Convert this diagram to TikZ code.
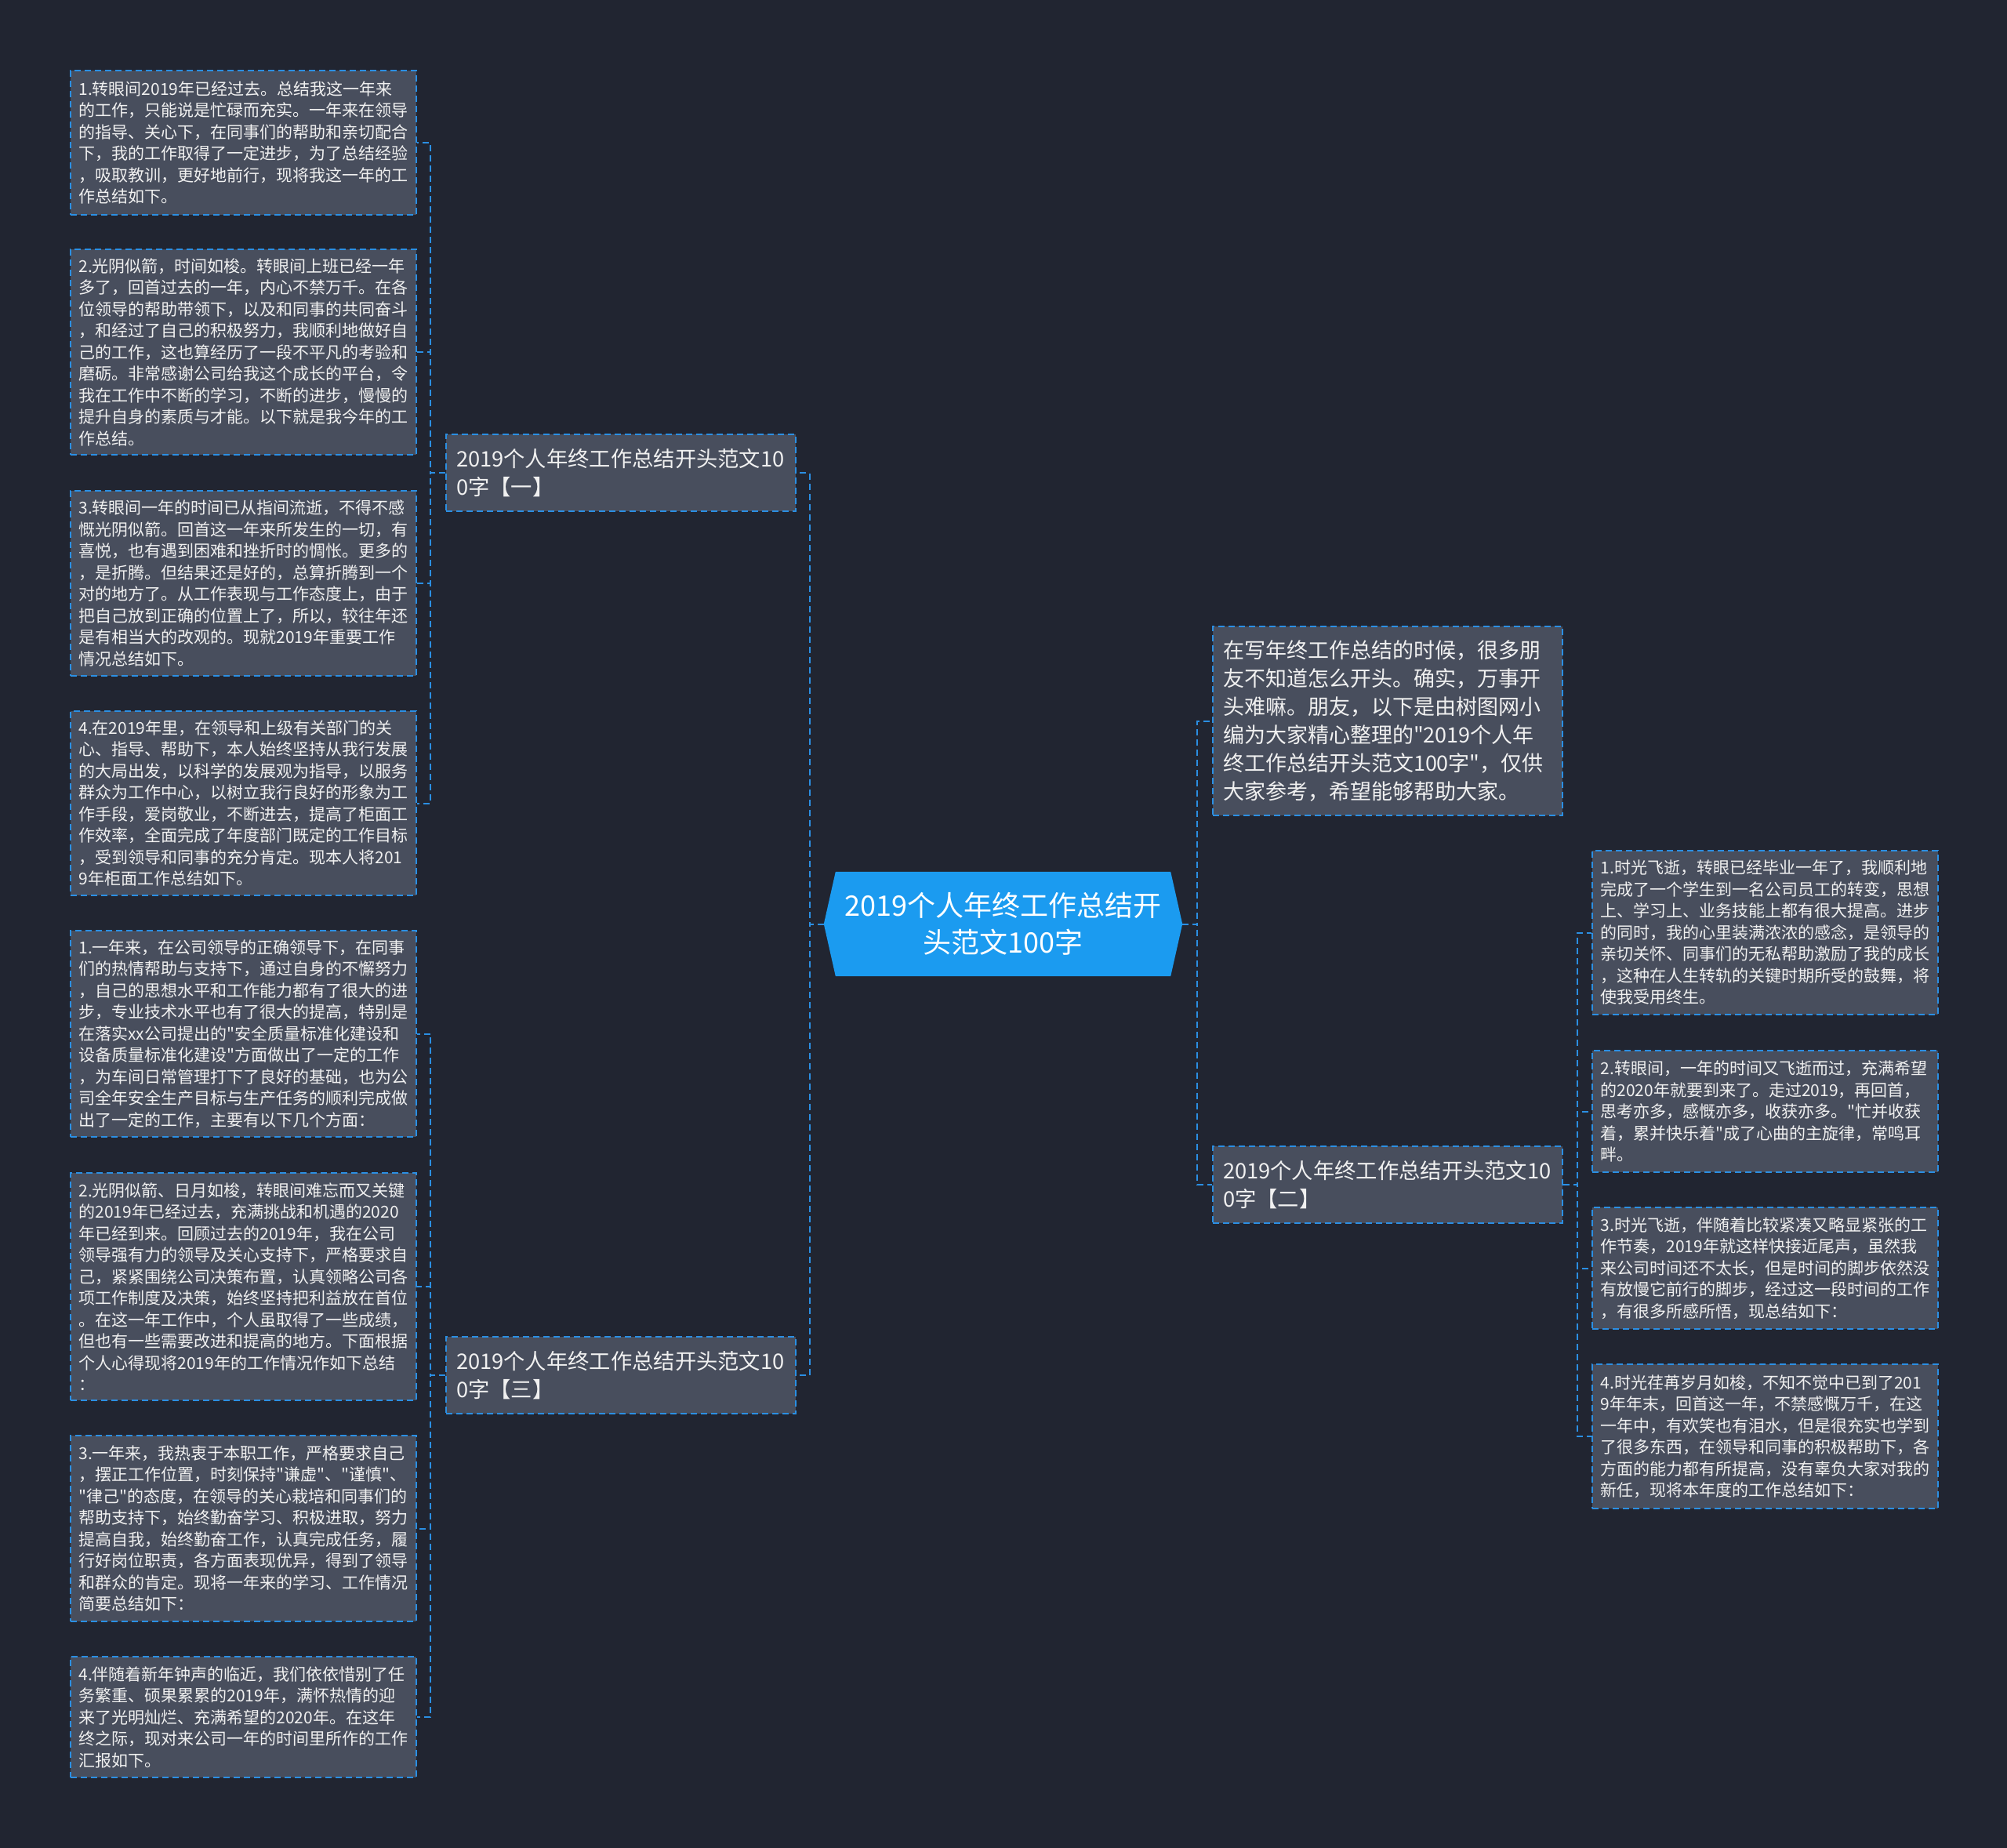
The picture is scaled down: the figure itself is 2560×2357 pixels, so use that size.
\documentclass[tikz,border=0pt]{standalone}
\usepackage{fontspec}
\newfontfamily\cjk{Noto Sans CJK SC}
\usetikzlibrary{calc}
\definecolor{bgc}{HTML}{212531}
\definecolor{boxfill}{HTML}{484E5D}
\definecolor{edge}{HTML}{2B8FE3}
\definecolor{hub}{HTML}{1B9BF0}
\definecolor{txt}{HTML}{F0F0F0}
\pgfdeclarelayer{back}
\pgfsetlayers{back,main}
\tikzset{
  dashline/.style={draw=edge, line width=2pt, dash pattern=on 8pt off 5pt},
  leaf/.style={dashline, fill=boxfill, anchor=north west, text width=420pt,
    inner xsep=10.5pt, inner ysep=0pt, align=left, text=txt,
    font=\cjk\fontsize{21}{27.5}\selectfont},
  branch/.style={dashline, fill=boxfill, anchor=north west, text width=420pt,
    inner xsep=13pt, inner ysep=0pt, align=left, text=txt, minimum height=98pt,
    font=\cjk\fontsize{27.3}{36}\selectfont},
  intro/.style={dashline, fill=boxfill, anchor=north west, text width=420pt,
    inner xsep=13pt, inner ysep=0pt, align=left, text=txt,
    font=\cjk\fontsize{27}{36}\selectfont},
  hubnode/.style={minimum width=457pt, minimum height=133pt, inner sep=0pt,
    align=center, text=white, font=\cjk\fontsize{36}{47}\selectfont},
  link/.style={dashline}
}
\begin{document}
\begin{tikzpicture}[x=1pt,y=-1pt]
\begin{pgfonlayer}{back}
\fill[bgc] (0,0) rectangle (2560,2357);
\end{pgfonlayer}
\useasboundingbox (0,0) rectangle (2560,2357);

% central topic
\node[hubnode] (c) at (1279.5,1178.5) {2019个人年终工作总结开\\头范文100字};
\begin{pgfonlayer}{back}
\fill[hub] ($(c.north west)+(15,0)$) -- ($(c.north east)+(-15,0)$) -- (c.east)
  -- ($(c.south east)+(-15,0)$) -- ($(c.south west)+(15,0)$) -- (c.west) -- cycle;
\end{pgfonlayer}

% branches
\node[branch, minimum width=446pt] (b1) at (568,553) {2019个人年终工作总结开头范文10\\0字【一】};
\node[branch, minimum width=446pt] (b3) at (568,1704) {2019个人年终工作总结开头范文10\\0字【三】};
\node[intro, minimum width=446pt, minimum height=241pt] (intro) at (1546,798) {在写年终工作总结的时候，很多朋\\友不知道怎么开头。确实，万事开\\头难嘛。朋友，以下是由树图网小\\编为大家精心整理的"2019个人年\\终工作总结开头范文100字"，仅供\\大家参考，希望能够帮助大家。};
\node[branch, minimum width=446pt] (b2) at (1546,1461) {2019个人年终工作总结开头范文10\\0字【二】};

% left group 1
\node[leaf, minimum height=184pt] (l1) at (89,89) {1.转眼间2019年已经过去。总结我这一年来\\的工作，只能说是忙碌而充实。一年来在领导\\的指导、关心下，在同事们的帮助和亲切配合\\下，我的工作取得了一定进步，为了总结经验\\，吸取教训，更好地前行，现将我这一年的工\\作总结如下。};
\node[leaf, minimum height=262pt] (l2) at (89,317) {2.光阴似箭，时间如梭。转眼间上班已经一年\\多了，回首过去的一年，内心不禁万千。在各\\位领导的帮助带领下，以及和同事的共同奋斗\\，和经过了自己的积极努力，我顺利地做好自\\己的工作，这也算经历了一段不平凡的考验和\\磨砺。非常感谢公司给我这个成长的平台，令\\我在工作中不断的学习，不断的进步，慢慢的\\提升自身的素质与才能。以下就是我今年的工\\作总结。};
\node[leaf, minimum height=236pt] (l3) at (89,625) {3.转眼间一年的时间已从指间流逝，不得不感\\慨光阴似箭。回首这一年来所发生的一切，有\\喜悦，也有遇到困难和挫折时的惆怅。更多的\\，是折腾。但结果还是好的，总算折腾到一个\\对的地方了。从工作表现与工作态度上，由于\\把自己放到正确的位置上了，所以，较往年还\\是有相当大的改观的。现就2019年重要工作\\情况总结如下。};
\node[leaf, minimum height=235pt] (l4) at (89,906) {4.在2019年里，在领导和上级有关部门的关\\心、指导、帮助下，本人始终坚持从我行发展\\的大局出发，以科学的发展观为指导，以服务\\群众为工作中心，以树立我行良好的形象为工\\作手段，爱岗敬业，不断进去，提高了柜面工\\作效率，全面完成了年度部门既定的工作目标\\，受到领导和同事的充分肯定。现本人将201\\9年柜面工作总结如下。};

% left group 3
\node[leaf, minimum height=263pt] (l5) at (89,1186) {1.一年来，在公司领导的正确领导下，在同事\\们的热情帮助与支持下，通过自身的不懈努力\\，自己的思想水平和工作能力都有了很大的进\\步，专业技术水平也有了很大的提高，特别是\\在落实xx公司提出的"安全质量标准化建设和\\设备质量标准化建设"方面做出了一定的工作\\，为车间日常管理打下了良好的基础，也为公\\司全年安全生产目标与生产任务的顺利完成做\\出了一定的工作，主要有以下几个方面：};
\node[leaf, minimum height=290pt] (l6) at (89,1495) {2.光阴似箭、日月如梭，转眼间难忘而又关键\\的2019年已经过去，充满挑战和机遇的2020\\年已经到来。回顾过去的2019年，我在公司\\领导强有力的领导及关心支持下，严格要求自\\己，紧紧围绕公司决策布置，认真领略公司各\\项工作制度及决策，始终坚持把利益放在首位\\。在这一年工作中，个人虽取得了一些成绩，\\但也有一些需要改进和提高的地方。下面根据\\个人心得现将2019年的工作情况作如下总结\\：};
\node[leaf, minimum height=237pt] (l7) at (89,1830) {3.一年来，我热衷于本职工作，严格要求自己\\，摆正工作位置，时刻保持"谦虚"、"谨慎"、\\"律己"的态度，在领导的关心栽培和同事们的\\帮助支持下，始终勤奋学习、积极进取，努力\\提高自我，始终勤奋工作，认真完成任务，履\\行好岗位职责，各方面表现优异，得到了领导\\和群众的肯定。现将一年来的学习、工作情况\\简要总结如下：};
\node[leaf, minimum height=154pt] (l8) at (89,2112) {4.伴随着新年钟声的临近，我们依依惜别了任\\务繁重、硕果累累的2019年，满怀热情的迎\\来了光明灿烂、充满希望的2020年。在这年\\终之际，现对来公司一年的时间里所作的工作\\汇报如下。};

% right group 2
\node[leaf, minimum height=209pt] (r1) at (2030,1084) {1.时光飞逝，转眼已经毕业一年了，我顺利地\\完成了一个学生到一名公司员工的转变，思想\\上、学习上、业务技能上都有很大提高。进步\\的同时，我的心里装满浓浓的感念，是领导的\\亲切关怀、同事们的无私帮助激励了我的成长\\，这种在人生转轨的关键时期所受的鼓舞，将\\使我受用终生。};
\node[leaf, minimum height=155pt] (r2) at (2030,1339) {2.转眼间，一年的时间又飞逝而过，充满希望\\的2020年就要到来了。走过2019，再回首，\\思考亦多，感慨亦多，收获亦多。"忙并收获\\着，累并快乐着"成了心曲的主旋律，常鸣耳\\畔。};
\node[leaf, minimum height=155pt] (r3) at (2030,1539) {3.时光飞逝，伴随着比较紧凑又略显紧张的工\\作节奏，2019年就这样快接近尾声，虽然我\\来公司时间还不太长，但是时间的脚步依然没\\有放慢它前行的脚步，经过这一段时间的工作\\，有很多所感所悟，现总结如下：};
\node[leaf, minimum height=184pt] (r4) at (2030,1739) {4.时光荏苒岁月如梭，不知不觉中已到了201\\9年年末，回首这一年，不禁感慨万千，在这\\一年中，有欢笑也有泪水，但是很充实也学到\\了很多东西，在领导和同事的积极帮助下，各\\方面的能力都有所提高，没有辜负大家对我的\\新任，现将本年度的工作总结如下：};

% connectors
\draw[link] (c.west) -- ++(-18,0) |- (b1.east);
\draw[link] (c.west) -- ++(-18,0) |- (b3.east);
\draw[link] (c.east) -- ++(19,0) |- (intro.west);
\draw[link] (c.east) -- ++(19,0) |- (b2.west);
\foreach \n in {l1,l2,l3,l4} \draw[link] (b1.west) -- ++(-19,0) |- (\n.east);
\foreach \n in {l5,l6,l7,l8} \draw[link] (b3.west) -- ++(-19,0) |- (\n.east);
\foreach \n in {r1,r2,r3,r4} \draw[link] (b2.east) -- ++(18,0) |- (\n.west);
\end{tikzpicture}
\end{document}
